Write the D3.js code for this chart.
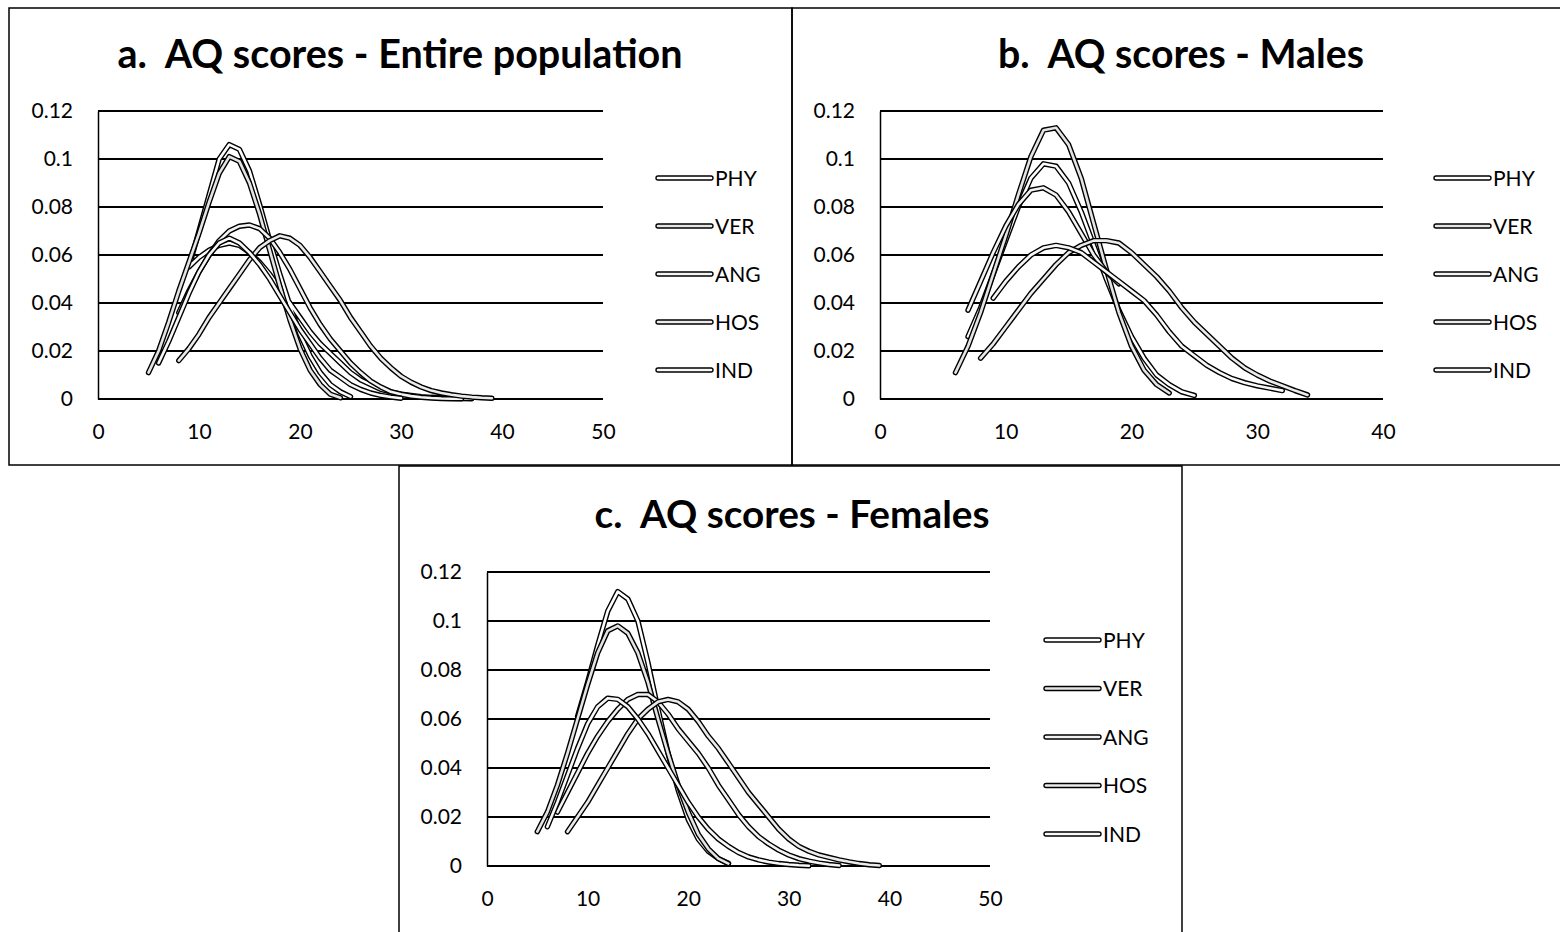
<!DOCTYPE html>
<html>
<head>
<meta charset="utf-8">
<script src="https://cdn.jsdelivr.net/npm/d3@7"></script>
<style>
  body { margin: 0; background: #fff; }
  svg { display: block; }
  text { font-family: Lato, "Liberation Sans", sans-serif; fill: #000; }
  .title { white-space: pre; }
</style>
</head>
<body>
<svg id="chart" width="1560" height="932"></svg>
<script>
// ---- data ----
var seriesNames = ["PHY", "VER", "ANG", "HOS", "IND"];
var yTicks = [0, 0.02, 0.04, 0.06, 0.08, 0.1, 0.12];
var xTicks50 = [0, 10, 20, 30, 40, 50];
var xTicks40 = [0, 10, 20, 30, 40];
var titles = ["a.  AQ scores - Entire population", "b.  AQ scores - Males", "c.  AQ scores - Females"];

// a. entire population
var aPhyX = [25,24,23,22,21,20,19,18,17,16,15,14,13,12,11,10,9,10,11,12,13,14,15,16,17,18,19,20,21,22,23,24,25,26,27,28,29,30,31,32,33,34,35,36,37];
var aPhyY = [0.001,0.003,0.006,0.011,0.018,0.027,0.039,0.052,0.066,0.081,0.095,0.104,0.106,0.1,0.085,0.07,0.055,0.059,0.062,0.064,0.065,0.064,0.061,0.057,0.052,0.046,0.04,0.034,0.028,0.023,0.019,0.015,0.011,0.008,0.006,0.004,0.003,0.002,0.0015,0.001,0.0007,0.0005,0.0003,0.0002,0.0001];
var aVerX = [5,6,7,8,9,10,11,12,13,14,15,16,17,18,19,20,21,22,23,24];
var aVerY = [0.011,0.02,0.032,0.045,0.057,0.069,0.082,0.094,0.101,0.099,0.09,0.077,0.062,0.047,0.033,0.021,0.012,0.006,0.002,0.0005];
var aAngX = [8,9,10,11,12,13,14,15,16,17,18,19,20,21,22,23,24,25,26,27,28,29,30,31,32,33,34,35,36];
var aAngY = [0.036,0.045,0.053,0.06,0.066,0.07,0.072,0.0725,0.071,0.067,0.061,0.054,0.046,0.038,0.031,0.025,0.02,0.015,0.011,0.0075,0.005,0.003,0.002,0.0012,0.0007,0.0004,0.0002,0.0001,0.0001];
var aHosX = [8,9,10,11,12,13,14,15,16,17,18,19,20,21,22,23,24,25,26,27,28,29,30,31,32,33,34,35,36,37,38,39];
var aHosY = [0.016,0.021,0.027,0.034,0.04,0.046,0.052,0.058,0.063,0.066,0.068,0.067,0.064,0.059,0.053,0.047,0.041,0.034,0.028,0.022,0.017,0.013,0.0095,0.007,0.005,0.0035,0.0025,0.0018,0.0012,0.0008,0.0005,0.0003];
var aIndX = [6,7,8,9,10,11,12,13,14,15,16,17,18,19,20,21,22,23,24,25,26,27,28,29,30];
var aIndY = [0.015,0.024,0.034,0.044,0.053,0.06,0.065,0.067,0.065,0.061,0.056,0.05,0.043,0.036,0.029,0.023,0.017,0.012,0.009,0.006,0.004,0.0025,0.0015,0.0008,0.0003];

// b. males
var bPhyX = [7,8,9,10,11,12,13,14,15,16,17,18,19,20,21,22,23,24,25];
var bPhyY = [0.026,0.038,0.052,0.066,0.08,0.092,0.098,0.097,0.09,0.078,0.064,0.05,0.037,0.026,0.017,0.01,0.006,0.003,0.0015];
var bVerX = [6,7,8,9,10,11,12,13,14,15,16,17,18,19,20,21,22,23];
var bVerY = [0.011,0.022,0.036,0.052,0.068,0.085,0.101,0.112,0.113,0.106,0.092,0.073,0.054,0.036,0.022,0.012,0.006,0.0025];
var bAngX = [7,8,9,10,11,12,13,14,15,16,17,18,19];
var bAngY = [0.037,0.049,0.061,0.072,0.081,0.087,0.088,0.085,0.078,0.069,0.06,0.053,0.048];
var bHosX = [8,9,10,11,12,13,14,15,16,17,18,19,20,21,22,23,24,25,26,27,28,29,30,31,32,33,34];
var bHosY = [0.017,0.023,0.03,0.037,0.044,0.05,0.056,0.061,0.064,0.066,0.066,0.065,0.061,0.056,0.051,0.045,0.038,0.032,0.027,0.022,0.017,0.013,0.01,0.0075,0.0055,0.0035,0.0017];
var bIndX = [9,10,11,12,13,14,15,16,17,18,19,20,21,22,23,24,25,26,27,28,29,30,31,32];
var bIndY = [0.042,0.049,0.055,0.06,0.063,0.064,0.063,0.061,0.057,0.053,0.049,0.045,0.041,0.035,0.028,0.022,0.018,0.014,0.011,0.0085,0.0068,0.0055,0.0045,0.0035];

// c. females
var cPhyX = [9,10,11,12,13,14,15,16,17,18,19,20,21,22,23,24];
var cPhyY = [0.061,0.075,0.09,0.104,0.112,0.109,0.1,0.083,0.064,0.046,0.031,0.019,0.011,0.006,0.003,0.001];
var cVerX = [5,6,7,8,9,10,11,12,13,14,15,16,17,18,19,20,21,22,23,24];
var cVerY = [0.014,0.022,0.033,0.046,0.06,0.074,0.087,0.096,0.098,0.095,0.087,0.075,0.06,0.046,0.033,0.022,0.013,0.007,0.003,0.001];
var cAngX = [7,8,9,10,11,12,13,14,15,16,17,18,19,20,21,22,23,24,25,26,27,28,29,30,31,32,33,34,35];
var cAngY = [0.022,0.03,0.038,0.046,0.053,0.059,0.064,0.068,0.07,0.07,0.067,0.062,0.056,0.051,0.046,0.04,0.033,0.027,0.021,0.016,0.012,0.009,0.0065,0.0045,0.003,0.002,0.0012,0.0006,0.0002];
var cHosX = [8,9,10,11,12,13,14,15,16,17,18,19,20,21,22,23,24,25,26,27,28,29,30,31,32,33,34,35,36,37,38,39];
var cHosY = [0.014,0.02,0.026,0.033,0.04,0.047,0.054,0.06,0.064,0.067,0.068,0.067,0.064,0.059,0.053,0.048,0.042,0.036,0.03,0.025,0.02,0.015,0.011,0.008,0.006,0.0045,0.0035,0.0025,0.0017,0.001,0.0005,0.0002];
var cIndX = [6,7,8,9,10,11,12,13,14,15,16,17,18,19,20,21,22,23,24,25,26,27,28,29,30,31,32];
var cIndY = [0.016,0.026,0.037,0.048,0.058,0.065,0.0685,0.068,0.065,0.06,0.054,0.047,0.04,0.033,0.026,0.02,0.015,0.011,0.008,0.0055,0.0037,0.0025,0.0016,0.001,0.0006,0.0003,0.0001];

// ---- layout ----
var innerColors = ["#ffffff", "#e4e4e4", "#f3f3f3", "#ebebeb", "#f8f8f8"];
var outerW = 5.4, innerW = 2.6;

var panels = [
  { title: titles[0], box: [9, 8, 792, 465], plot: [98, 111, 603, 399], xTicks: xTicks50,
    titleX: 400, titleY: 68, titleW: 565, legendX: 657, legendY: 178, legendStep: 48,
    xs: [aPhyX, aVerX, aAngX, aHosX, aIndX], ys: [aPhyY, aVerY, aAngY, aHosY, aIndY] },
  { title: titles[1], box: [792, 8, 1575, 465], plot: [880, 111, 1383, 399], xTicks: xTicks40,
    titleX: 1181, titleY: 68, titleW: 366, legendX: 1435, legendY: 178, legendStep: 48,
    xs: [bPhyX, bVerX, bAngX, bHosX, bIndX], ys: [bPhyY, bVerY, bAngY, bHosY, bIndY] },
  { title: titles[2], box: [399, 466, 1182, 940], plot: [487, 572, 990, 866], xTicks: xTicks50,
    titleX: 792, titleY: 528, titleW: 395, legendX: 1045, legendY: 640, legendStep: 48.5,
    xs: [cPhyX, cVerX, cAngX, cHosX, cIndX], ys: [cPhyY, cVerY, cAngY, cHosY, cIndY] }
];

var svg = d3.select("#chart");

panels.forEach(function (p) {
    var g = svg.append("g");

    g.append("rect")
        .attr("x", p.box[0]).attr("y", p.box[1])
        .attr("width", p.box[2] - p.box[0]).attr("height", p.box[3] - p.box[1])
        .attr("fill", "none").attr("stroke", "#000").attr("stroke-width", 1.5);

    // title, fitted to the width seen in the picture
    var t = g.append("text")
        .attr("class", "title")
        .attr("x", p.titleX).attr("y", p.titleY)
        .attr("text-anchor", "middle")
        .style("font-weight", "bold")
        .style("font-size", "34px")
        .text(p.title);
    var w = t.node().getComputedTextLength();
    t.style("font-size", (34 * p.titleW / w).toFixed(2) + "px");

    var x = d3.scaleLinear()
            .domain([0, p.xTicks[p.xTicks.length - 1]])
            .range([p.plot[0], p.plot[2]]);
    var y = d3.scaleLinear()
            .domain([0, 0.12])
            .range([p.plot[3], p.plot[1]]);

    // gridlines
    g.append("g").selectAll("line")
        .data(yTicks)
        .enter().append("line")
        .attr("x1", p.plot[0]).attr("x2", p.plot[2])
        .attr("y1", function (d) { return y(d); })
        .attr("y2", function (d) { return y(d); })
        .attr("stroke", "#000").attr("stroke-width", 2);

    // y axis
    var yAxis = g.append("g")
        .attr("transform", "translate(" + p.plot[0] + ",0)")
        .call(d3.axisLeft(y).tickValues(yTicks).tickSize(0).tickPadding(25)
              .tickFormat(function (d) { return d3.format("")(+d.toFixed(2)); }));
    yAxis.select(".domain").attr("stroke", "#000").attr("stroke-width", 1.5);
    yAxis.selectAll("text").style("font-size", "21px").style("font-family", "Lato, sans-serif");

    // x axis
    var xAxis = g.append("g")
        .attr("transform", "translate(0," + p.plot[3] + ")")
        .call(d3.axisBottom(x).tickValues(p.xTicks).tickSize(0).tickPadding(25));
    xAxis.select(".domain").remove();
    xAxis.selectAll("text").style("font-size", "21px").style("font-family", "Lato, sans-serif");

    var line = d3.line()
        .x(function (d) { return x(d[0]); })
        .y(function (d) { return y(d[1]); });

    // each series: dark outline with a light core
    seriesNames.forEach(function (name, i) {
        var pts = p.xs[i].map(function (v, k) { return [v, p.ys[i][k]]; });
        var s = g.append("g").attr("class", "series " + name);
        s.append("path").datum(pts).attr("d", line)
            .attr("fill", "none").attr("stroke", "#000").attr("stroke-width", outerW)
            .attr("stroke-linejoin", "round").attr("stroke-linecap", "round");
        s.append("path").datum(pts).attr("d", line)
            .attr("fill", "none").attr("stroke", innerColors[i]).attr("stroke-width", innerW)
            .attr("stroke-linejoin", "round").attr("stroke-linecap", "round");
    });

    // legend
    var lg = g.append("g").selectAll("g")
        .data(seriesNames)
        .enter().append("g")
        .attr("transform", function (d, i) {
            return "translate(" + p.legendX + "," + (p.legendY + i * p.legendStep) + ")";
        });
    lg.append("line").attr("x1", 1).attr("x2", 54)
        .attr("stroke", "#000").attr("stroke-width", outerW).attr("stroke-linecap", "round");
    lg.append("line").attr("x1", 1).attr("x2", 54)
        .attr("stroke", function (d, i) { return innerColors[i]; })
        .attr("stroke-width", innerW).attr("stroke-linecap", "round");
    lg.append("text")
        .attr("x", 58).attr("y", 0).attr("dy", "0.36em")
        .style("font-size", "21px")
        .text(function (d) { return d; });
});
</script>
</body>
</html>
